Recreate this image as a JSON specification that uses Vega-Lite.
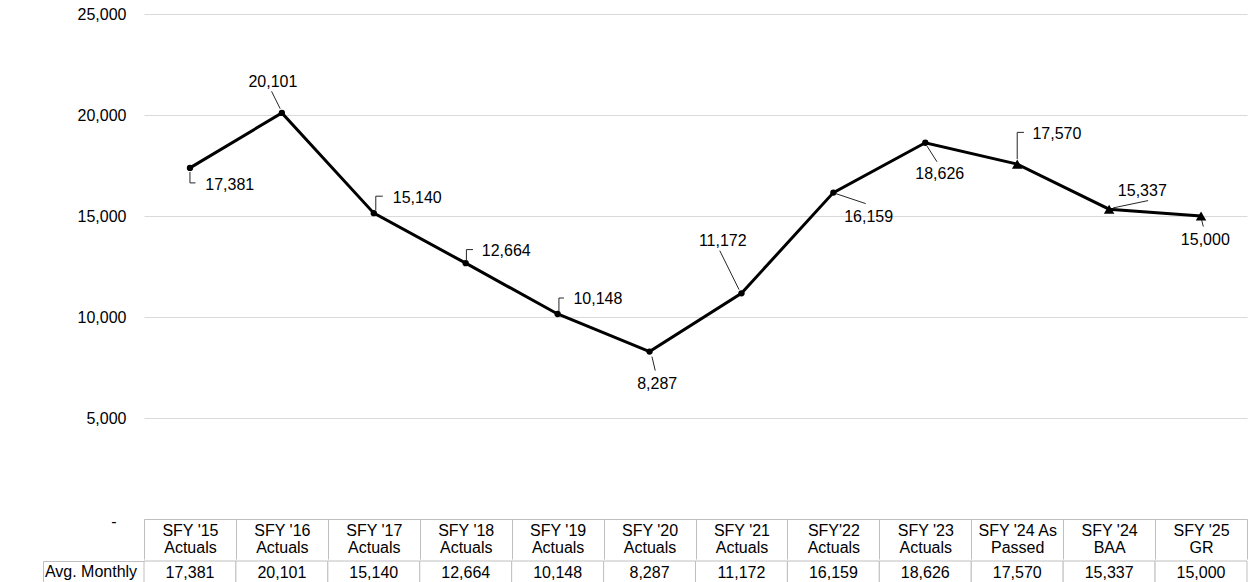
{
  "$schema": "https://vega.github.io/schema/vega-lite/v6.json",
  "background": "white",
  "padding": {"left": 42, "top": 6, "right": 4, "bottom": 0},
  "data": {
    "values": [
      {"order": 1, "period": "SFY '15\nActuals", "value": 17381},
      {"order": 2, "period": "SFY '16\nActuals", "value": 20101},
      {"order": 3, "period": "SFY '17\nActuals", "value": 15140},
      {"order": 4, "period": "SFY '18\nActuals", "value": 12664},
      {"order": 5, "period": "SFY '19\nActuals", "value": 10148},
      {"order": 6, "period": "SFY '20\nActuals", "value": 8287},
      {"order": 7, "period": "SFY '21\nActuals", "value": 11172},
      {"order": 8, "period": "SFY'22\nActuals", "value": 16159},
      {"order": 9, "period": "SFY '23\nActuals", "value": 18626},
      {"order": 10, "period": "SFY '24 As\nPassed", "value": 17570},
      {"order": 11, "period": "SFY '24\nBAA", "value": 15337},
      {"order": 12, "period": "SFY '25\nGR", "value": 15000}
    ]
  },
  "vconcat": [
    {
      "width": 1103,
      "height": 505,
      "encoding": {
        "x": {
          "field": "period", "type": "nominal", "sort": null,
          "scale": {"type": "band", "paddingInner": 0, "paddingOuter": 0},
          "axis": {
            "title": null, "orient": "bottom", "labelAngle": 0,
            "domainColor": "#bfbfbf", "tickColor": "#bfbfbf", "tickBand": "extent",
            "tickSize": 40, "labelPadding": -37, "labelBaseline": "top",
            "labelExpr": "split(datum.label, '\\n')", "labelLineHeight": 17,
            "labelOverlap": false, "grid": false
          }
        },
        "y": {
          "field": "value", "type": "quantitative",
          "scale": {"domain": [0, 25000], "nice": false},
          "axis": {
            "title": null, "values": [0, 5000, 10000, 15000, 20000, 25000],
            "labelExpr": "datum.value == 0 ? '-' : format(datum.value, ',')",
            "ticks": false, "domain": false, "gridColor": "#d9d9d9",
            "labelPadding": {"condition": {"test": "datum.value == 0", "value": 28}, "value": 18},
            "labelOffset": {"condition": {"test": "datum.value == 0", "value": 2}, "value": 0}
          }
        }
      },
      "layer": [
        {"mark": {"type": "line", "color": "#000", "strokeWidth": 3}},
        {
          "transform": [{"filter": "datum.order <= 9"}],
          "mark": {"type": "point", "shape": "circle", "filled": true, "color": "#000", "size": 40, "opacity": 1}
        },
        {
          "transform": [{"filter": "datum.order > 9"}],
          "mark": {"type": "point", "shape": "triangle-up", "filled": true, "color": "#000", "size": 110, "opacity": 1}
        },
        {
          "mark": {
            "type": "rule", "color": "#262626", "strokeWidth": 1,
            "xOffset": {"expr": "[0,-1.7,2,0.7,1.3,2.4,-2.4,2.3,1.7,0,4,0.6][datum.order-1]"},
            "yOffset": {"expr": "[4,-4.3,-3,-3,-3,5,-3.7,1,3.3,-5,-1.3,4][datum.order-1]"},
            "x2Offset": {"expr": "[0,-10.3,2,0.7,1.3,5.7,-21.7,32.3,11.7,0,39,2.3][datum.order-1]"},
            "y2Offset": {"expr": "[15,-21.6,-17,-13.6,-16,19,-42.7,11,19,-31.7,-8.6,10.6][datum.order-1]"}
          },
          "encoding": {
            "x2": {"field": "period"},
            "y2": {"field": "value"}
          }
        },
        {
          "transform": [{"filter": "indexof([1,3,4,5,10], datum.order) >= 0"}],
          "mark": {
            "type": "rule", "color": "#262626", "strokeWidth": 1,
            "xOffset": {"expr": "[0,0,2,0.7,1.3,0,0,0,0,0,0,0][datum.order-1]"},
            "yOffset": {"expr": "[15,0,-17,-13.6,-16,0,0,0,0,-31.7,0,0][datum.order-1]"},
            "x2Offset": {"expr": "[5.5,0,9,7.3,6.3,0,0,0,0,6.7,0,0][datum.order-1]"},
            "y2Offset": {"expr": "[15,0,-17,-13.6,-16,0,0,0,0,-31.7,0,0][datum.order-1]"}
          },
          "encoding": {
            "x2": {"field": "period"},
            "y2": {"field": "value"}
          }
        },
        {
          "mark": {
            "type": "text", "fontSize": 16, "color": "#000", "align": "center", "baseline": "middle",
            "dx": {"expr": "[39.8,-9,43.5,40.5,40.3,7.7,-18.7,35.3,14.5,39.7,33.2,4.3][datum.order-1]"},
            "dy": {"expr": "[16.7,-30.6,-15.4,-12.3,-15,32.5,-52.7,24.2,31.3,-30,-18.3,23.8][datum.order-1]"}
          },
          "encoding": {"text": {"field": "value", "type": "quantitative", "format": ","}}
        }
      ]
    },
    {
      "width": 1103,
      "height": 22,
      "encoding": {
        "x": {
          "field": "period", "type": "nominal", "sort": null, "axis": null,
          "scale": {"type": "band", "paddingInner": 0, "paddingOuter": 0}
        },
        "y": {
          "datum": "Avg. Monthly", "type": "nominal",
          "scale": {"paddingInner": 0, "paddingOuter": 0},
          "axis": {
            "title": null, "offset": 101, "domain": true, "domainColor": "#bfbfbf",
            "ticks": true, "tickSize": -101, "tickColor": "#bfbfbf", "bandPosition": 0,
            "labelAlign": "center", "labelBaseline": "middle", "labelPadding": 53.5, "labelOffset": 0,
            "grid": false
          }
        }
      },
      "layer": [
        {"mark": {"type": "rect", "fill": "white", "stroke": "#bfbfbf", "strokeWidth": 1}},
        {
          "mark": {"type": "text", "fontSize": 16, "color": "#000", "align": "center", "baseline": "middle", "dy": 1},
          "encoding": {"text": {"field": "value", "type": "quantitative", "format": ","}}
        }
      ]
    }
  ],
  "config": {
    "font": "Liberation Sans",
    "view": {"stroke": null},
    "concat": {"spacing": 0},
    "axis": {"labelFont": "Liberation Sans", "labelFontSize": 16, "labelColor": "#000"}
  }
}
